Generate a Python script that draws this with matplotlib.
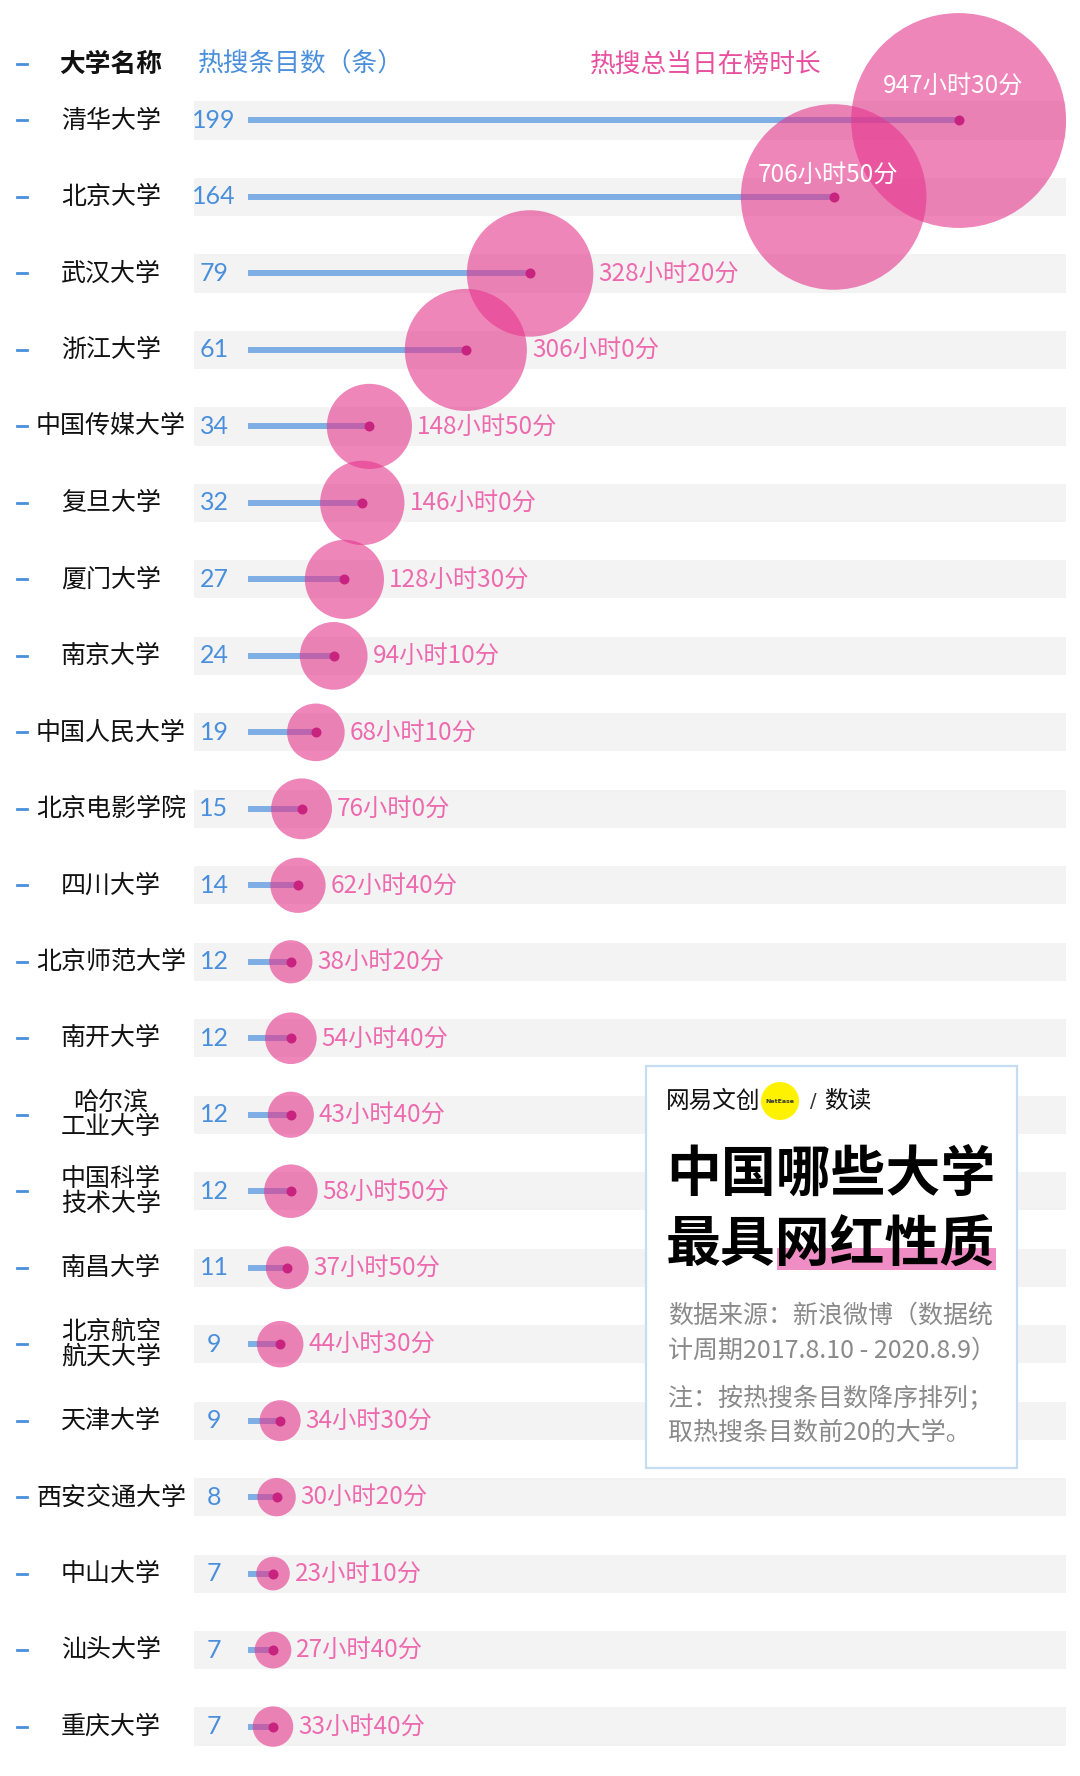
import matplotlib
matplotlib.use("Agg")
import matplotlib.pyplot as plt
from matplotlib.patches import Rectangle, Ellipse
import numpy as np

plt.rcParams['font.family'] = ['Noto Sans CJK SC', 'DejaVu Sans']

# ---------------- data ----------------
universities = ["清华大学", "北京大学", "武汉大学", "浙江大学", "中国传媒大学", "复旦大学",
                "厦门大学", "南京大学", "中国人民大学", "北京电影学院", "四川大学", "北京师范大学",
                "南开大学", "哈尔滨\n工业大学", "中国科学\n技术大学", "南昌大学", "北京航空\n航天大学",
                "天津大学", "西安交通大学", "中山大学", "汕头大学", "重庆大学"]
counts = [199, 164, 79, 61, 34, 32, 27, 24, 19, 15, 14, 12, 12, 12, 12, 11, 9, 9, 8, 7, 7, 7]
hours = [947, 706, 328, 306, 148, 146, 128, 94, 68, 76, 62, 38, 54, 43, 58, 37, 44, 34, 30, 23, 27, 33]
minutes = [30, 50, 20, 0, 50, 0, 30, 10, 10, 0, 40, 20, 40, 40, 50, 50, 30, 30, 20, 10, 40, 40]

header_name = "大学名称"
header_count = "热搜条目数（条）"
header_time = "热搜总当日在榜时长"

logo_text = "网易文创"
logo_sub = "数读"
title_line1 = "中国哪些大学"
title_line2a = "最具"
title_line2b = "网红性质"
source_lines = ["数据来源：新浪微博（数据统", "计周期2017.8.10 - 2020.8.9）"]
note_lines = ["注：按热搜条目数降序排列；", "取热搜条目数前20的大学。"]

# ---------------- layout ----------------
W, H, DPI = 1080, 1776, 100
fig = plt.figure(figsize=(W / DPI, H / DPI), dpi=DPI)
fig.patch.set_facecolor("white")
ax = fig.add_axes([0, 0, 1, 1])
ax.axis("off")

px_per_count = 3.571
x0_px = 248
row_px = 76.48
y0_px = 120.5
n = len(universities)
ax.set_xlim(-x0_px / px_per_count, (W - x0_px) / px_per_count)
ax.set_ylim((n - 1) + (H - y0_px - (n - 1) * row_px) / row_px, -y0_px / row_px)

y = np.arange(n)
total_h = np.array(hours) + np.array(minutes) / 60.0

BLUE_LINE = "#7eaee3"
BLUE_TXT = "#4a8fdc"
PINK = "#e5358c"
PINK_TXT = "#ee6aae"
DOT = "#c8237f"

# gray bands
for i in y:
    ax.axhspan(i - 0.25, i + 0.25, xmin=194 / W, xmax=1066 / W, color="#f3f3f3", lw=0, zorder=0)

# blue lines
ax.hlines(y, 0, counts, color=BLUE_LINE, lw=4.3, zorder=1, capstyle="butt")

# bubbles: area proportional to hours
k_px = 3.49
radius_px = k_px * np.sqrt(total_h)
sizes = (2 * radius_px * 72 / DPI) ** 2
ax.scatter(counts, y, s=sizes, color=PINK, alpha=0.6, lw=0, zorder=2)
ax.scatter(counts, y, s=52, color=DOT, lw=0, zorder=3)

# left dashes
header_y = (64.5 - y0_px) / row_px
for yy in list(y) + [header_y]:
    ax.plot([17 / W, 27 / W], [yy, yy], color=BLUE_TXT, lw=2.0,
            transform=ax.get_yaxis_transform(), zorder=4)

# names and counts
for i, (name, c) in enumerate(zip(universities, counts)):
    ax.text(111 / W, i, name, transform=ax.get_yaxis_transform(), ha="center", va="center",
            fontsize=18, color="#111111", linespacing=0.95, fontweight="medium", zorder=5)
    ax.text(214 / W, i, str(c), transform=ax.get_yaxis_transform(), ha="center", va="center",
            fontsize=18, color=BLUE_TXT, family=["Lato", "DejaVu Sans"], fontweight="normal", zorder=5)

# hour labels
for i, (c, h, m, r) in enumerate(zip(counts, hours, minutes, radius_px)):
    label = f"{h}小时{m}分"
    if i == 0:
        ax.annotate(label, (c, i), xytext=(-4, 35 * 0.72), textcoords="offset points",
                    ha="center", va="center", fontsize=17.5, color="white", zorder=6)
    elif i == 1:
        ax.annotate(label, (c, i), xytext=(-4, 22 * 0.72), textcoords="offset points",
                    ha="center", va="center", fontsize=17.5, color="white", zorder=6)
    else:
        ax.annotate(label, (c, i), xytext=((r + 5) * 0.72, 0), textcoords="offset points",
                    ha="left", va="center", fontsize=17.5, color=PINK_TXT, zorder=6)

# headers
ax.text(111 / W, header_y, header_name, transform=ax.get_yaxis_transform(), ha="center", va="center",
        fontsize=18.5, color="#111111", fontweight="bold", zorder=5)
ax.text(198 / W, header_y, header_count, transform=ax.get_yaxis_transform(), ha="left", va="center",
        fontsize=18.5, color=BLUE_TXT, zorder=5)
ax.text(590 / W, header_y, header_time, transform=ax.get_yaxis_transform(), ha="left", va="center",
        fontsize=18.5, color="#e8509f", zorder=5)


# ---------------- info box ----------------
def F(xp, yp):
    return (xp / W, 1 - yp / H)


bx0, by0, bx1, by1 = 646, 1066, 1017, 1468
fig.patches.append(Rectangle(F(bx0, by1), (bx1 - bx0) / W, (by1 - by0) / H, transform=fig.transFigure,
                             facecolor="white", edgecolor="#c6dcf2", lw=1.6, zorder=10))

# logo
fig.text(*F(666, 1101), logo_text, ha="left", va="center", fontsize=17, color="#111111", zorder=12)
fig.patches.append(Ellipse(F(780, 1101), 38 / W, 38 / H, transform=fig.transFigure,
                           facecolor="#fff200", edgecolor="none", zorder=11))
fig.text(*F(780, 1101), "NetEase", ha="center", va="center", fontsize=4.5, color="#333333",
         family=["DejaVu Sans"], fontweight="bold", zorder=12)
fig.text(*F(813, 1101), "/", ha="center", va="center", fontsize=14, color="#333333",
         family=["DejaVu Sans"], zorder=12)
fig.text(*F(824, 1101), logo_sub, ha="left", va="center", fontsize=17, color="#111111", zorder=12)

# title
fig.patches.append(Rectangle(F(777, 1270), (996 - 777) / W, 22 / H, transform=fig.transFigure,
                             facecolor="#f08dc4", edgecolor="none", zorder=11))
fig.text(*F(666, 1174), title_line1, ha="left", va="center", fontsize=39.5, color="black",
         fontweight="heavy", zorder=12)
fig.text(*F(666, 1245), title_line2a + title_line2b, ha="left", va="center", fontsize=39.5, color="black",
         fontweight="heavy", zorder=12)

# source & note
for j, line in enumerate(source_lines):
    fig.text(*F(668, 1316 + 35 * j), line, ha="left", va="center", fontsize=18, color="#8a8a8a", zorder=12)
for j, line in enumerate(note_lines):
    fig.text(*F(668, 1399 + 34 * j), line, ha="left", va="center", fontsize=18, color="#8a8a8a", zorder=12)

fig.savefig("out.png", dpi=DPI, facecolor="white")
